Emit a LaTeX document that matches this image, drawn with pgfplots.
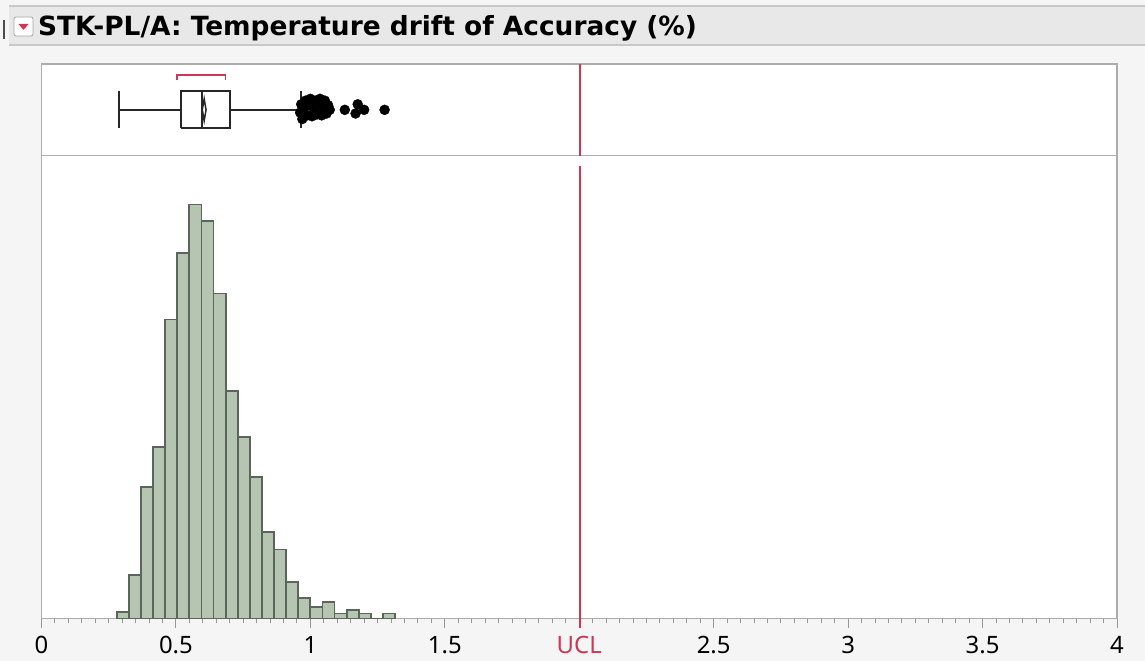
\documentclass[border=0pt]{standalone}
\usepackage{pgfplots}
\pgfplotsset{compat=1.18}
\usepackage{fontspec}
\setmainfont{Noto Sans}
\newfontfamily\titlefont{DejaVu Sans}
\definecolor{bg}{RGB}{245,245,245}
\definecolor{titlebg}{RGB}{232,232,232}
\definecolor{titleline}{RGB}{200,200,200}
\definecolor{framec}{RGB}{172,172,172}
\definecolor{tickc}{RGB}{150,150,150}
\definecolor{barfill}{RGB}{182,197,178}
\definecolor{baredge}{RGB}{90,102,90}
\definecolor{ucl}{RGB}{205,55,85}
\begin{document}
\begin{tikzpicture}[x=1bp,y=1bp]
\fill[bg] (0,0) rectangle (1145,661);
\path[use as bounding box] (0,0) rectangle (1145,661);
% title bar
\fill[titlebg] (9,616) rectangle (1145,655);
\draw[titleline, line width=1.2bp] (9,655) -- (1145,655);
\draw[titleline, line width=1.2bp] (9,616) -- (1145,616);
\draw[black!70, line width=1.5bp] (4,622) -- (4,641);
\draw[fill=white, draw=black!35, rounded corners=2bp, line width=0.8bp] (14,625) rectangle (33,644);
\fill[ucl] (18.5,637) -- (28.5,637) -- (23.5,631) -- cycle;
\node[anchor=base west, inner sep=0, font=\titlefont\fontsize{26.5}{31}\selectfont\bfseries] at (38,625) {STK-PL/A: Temperature drift of Accuracy (\%)};

% histogram panel
\begin{axis}[
  at={(41.5bp,42.5bp)}, anchor=south west, scale only axis,
  width=1075.5bp, height=462.8bp,
  xmin=0, xmax=4, ymin=0, ymax=462.8,
  axis background/.style={fill=white},
  axis line style={draw=framec, line width=1.5bp},
  ytick=\empty,
  xtick={0,0.5,1,1.5,2,2.5,3,3.5,4},
  xticklabels={0,0.5,1,1.5,\textcolor{ucl}{UCL},2.5,3,3.5,4},
  minor x tick num=9,
  xtick pos=bottom,
  tick align=outside,
  major tick length=10bp, minor tick length=5bp,
  every tick/.style={draw=tickc, line width=1bp},
  xticklabel style={font=\fontsize{24}{28}\selectfont, text=black, anchor=north, yshift=-4bp},
  clip=false,
]
\addplot[ybar interval, fill=barfill, draw=baredge, line width=1.8bp] coordinates {
(0.280,6.7) (0.325,43.3) (0.370,131.3) (0.415,171.3) (0.460,299) (0.505,365.7)
(0.550,414) (0.595,397.3) (0.640,325) (0.685,227.3) (0.730,181.3) (0.775,141.3)
(0.820,86.7) (0.865,69) (0.910,36.7) (0.955,20.7) (1.000,11.3) (1.045,16.7)
(1.090,5) (1.135,8.3) (1.180,5) (1.225,0) (1.270,5) (1.315,0)
};
\addplot[ucl, line width=1.6bp] coordinates {(2.003,-10) (2.003,452.5)};
\end{axis}

% box plot panel
\begin{axis}[
  at={(41.5bp,505.3bp)}, anchor=south west, scale only axis,
  width=1075.5bp, height=91.7bp,
  xmin=0, xmax=4, ymin=0, ymax=1,
  axis background/.style={fill=white},
  axis line style={draw=framec, line width=1.5bp},
  ticks=none,
  clip=false,
]
\addplot[ucl, line width=1.6bp] coordinates {(2.003,0) (2.003,1)};
% whiskers
\addplot[black!85, line width=2bp] coordinates {(0.289,0.5) (0.52,0.5)};
\addplot[black!85, line width=2bp] coordinates {(0.70,0.5) (0.964,0.5)};
\addplot[black!85, line width=2bp] coordinates {(0.289,0.3) (0.289,0.7)};
\addplot[black!85, line width=2bp] coordinates {(0.964,0.3) (0.964,0.7)};
% box
\addplot[black!85, line width=2bp] coordinates {(0.52,0.3) (0.70,0.3) (0.70,0.7) (0.52,0.7) (0.52,0.3)};
\addplot[black!85, line width=2bp] coordinates {(0.598,0.3) (0.598,0.7)};
% mean diamond
\addplot[black!85, line width=1.5bp] coordinates {(0.598,0.5) (0.605,0.62) (0.612,0.5) (0.605,0.38) (0.598,0.5)};
% shortest half bracket
\addplot[ucl, line width=1.6bp] coordinates {(0.504,0.82) (0.504,0.877) (0.684,0.877) (0.684,0.82)};
% outliers
\addplot[only marks, mark=*, mark size=5bp, black] coordinates {
(0.962,0.47) (0.966,0.56) (0.970,0.40) (0.976,0.52) (0.982,0.60) (0.988,0.44)
(0.994,0.55) (1.000,0.62) (1.006,0.43) (1.012,0.52) (1.018,0.60) (1.024,0.45)
(1.030,0.55) (1.036,0.62) (1.042,0.44) (1.048,0.53) (1.054,0.60) (1.060,0.46)
(1.066,0.55) (1.072,0.50) (1.128,0.50) (1.168,0.46) (1.176,0.56) (1.200,0.50)
(1.276,0.50)
};
\end{axis}
\end{tikzpicture}
\end{document}
